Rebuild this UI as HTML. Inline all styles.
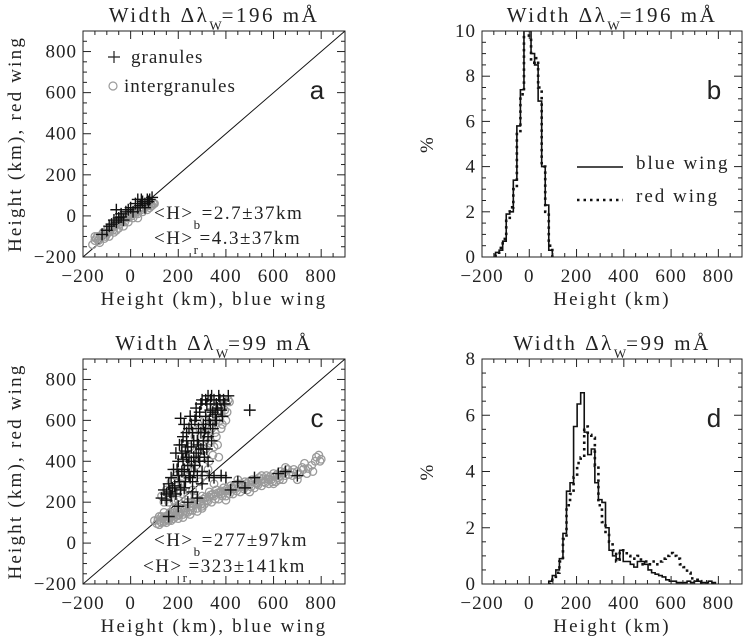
<!DOCTYPE html>
<html><head><meta charset="utf-8"><style>
html,body{margin:0;padding:0;background:#fff}
svg{display:block}
text{font-family:"Liberation Serif","DejaVu Serif",serif;fill:#222}
</style></head><body>
<svg id="fig" width="744" height="637" viewBox="0 0 744 637" xmlns="http://www.w3.org/2000/svg"></svg>
<script>
// ---- data ----
const histBins196 = [-135,-120,-105,-90,-75,-60,-45,-30,-15,0,15,30,45,60,75,90];
const blue196 = [0.2,0.3,0.7,1.9,2.0,3.4,5.8,7.4,10,10.2,9.0,8.5,6.9,4.0,2.3,0.3];
const red196  = [0.1,0.4,0.8,1.6,2.2,3.0,5.5,7.2,9.8,9.8,8.6,8.8,7.5,4.0,2.0,0.5];
const binWidth = 15;
const histBins99 = [90,105,120,135,150,165,180,195,210,225,240,255,270,285,300,315,330,345,360,375,390,405,420,435,450,465,480,495,510,525,540,555,570,585,600,615,630,645,660,675,690,705,720,735,750,765,780];
const blue99 = [0.1,0.3,0.5,0.9,1.8,3.3,3.6,5.6,6.4,6.8,5.4,4.6,4.8,3.6,3.0,2.9,2.0,1.2,1.0,0.9,1.2,0.8,0.8,0.7,0.6,0.8,0.8,0.7,0.5,0.4,0.35,0.3,0.25,0.15,0.1,0.1,0.05,0.05,0.05,0.1,0.05,0.1,0.1,0.05,0.05,0.1,0.05];
const red99 = [0,0.2,0.4,0.8,1.6,2.8,3.2,3.8,4.3,4.5,5.6,5.3,5.2,4.2,2.8,2.2,1.8,1.5,1.2,0.8,1.1,1.2,1.0,0.9,0.9,1.0,0.7,0.8,0.7,0.8,0.7,0.8,0.9,1.0,1.1,1.0,0.9,0.7,0.6,0.4,0.2,0.15,0.1,0.05,0.02,0,0];
const aGray = [[-150,-120],[-140,-100],[-130,-130],[-120,-90],[-110,-110],[-100,-70],[-90,-100],[-80,-60],[-70,-80],[-60,-40],[-50,-60],[-40,-20],[-30,-50],[-20,0],[-10,-30],[0,20],[10,-10],[20,30],[30,10],[40,40],[50,20],[60,50],[70,30],[80,60],[90,50],[100,60],[-130,-110],[-100,-90],[-70,-50],[-40,-30],[-10,-10],[20,10],[50,40],[80,40],[-160,-140],[-150,-100],[-60,-70],[30,-10],
[-145,-110],[-125,-100],[-115,-80],[-95,-80],[-85,-70],[-75,-70],[-65,-50],[-55,-30],[-45,-40],[-35,-10],[-25,-30],[-15,-10],[-5,10],[5,0],[15,20],[25,20],[35,30],[45,30],[55,40],[65,50],[75,50],[85,50],[95,60],[-105,-100],[-135,-120]];
const aBlack = [[-120,-90],[-80,-40],[-60,30],[-50,-10],[-40,10],[-20,20],[0,40],[20,60],[30,80],[40,50],[50,70],[60,60],[70,80],[80,80],[90,90],[-30,-20],[10,20],[-100,-70],[60,40],[-90,-50],[-70,-20],[-40,-5],[-10,30],[30,40],[45,80],[75,70],[-60,-30]];
const cGray = [[100,110],[110,95],[120,130],[130,100],[140,150],[150,120],[160,140],[170,110],[180,170],[190,130],[200,150],[210,190],[220,140],[230,170],[240,200],[250,160],[260,180],[270,220],[280,170],[290,200],[300,230],[310,190],[320,210],[330,250],[340,200],[350,230],[360,260],[370,215],[380,240],[390,270],[400,230],[410,255],[420,280],[430,240],[440,265],[450,290],[460,250],[470,275],[480,300],[490,260],[500,285],[510,310],[520,270],[530,295],[540,320],[550,280],[560,300],[570,330],[580,290],[590,310],[600,340],[610,300],[620,320],[630,350],[640,310],[650,330],[660,360],[680,330],[700,350],[720,370],[740,340],[760,380],[780,420],[790,430],[800,410],[700,310],[600,290],[500,250],[400,210],[300,170],[250,140],[200,120],[150,100],[350,290],[450,310],[550,330],[650,370],[730,390],[130,130],[180,145],[230,150],[280,190],[330,225],[380,255],[430,265],[480,280],[530,290],[580,310],[630,330],[680,345],
[115,115],[125,105],[135,120],[145,130],[155,115],[165,150],[175,130],[185,150],[195,160],[205,140],[215,170],[225,160],[235,180],[245,175],[255,195],[265,190],[275,200],[285,210],[295,190],[305,215],[315,225],[325,205],[335,235],[345,240],[355,215],[365,245],[375,250],[385,230],[395,255],[405,265],[415,240],[425,270],[435,280],[445,255],[455,275],[465,290],[475,265],[485,290],[495,300],[505,275],[515,300],[525,310],[535,285],[545,305],[555,315],[565,295],[575,315],[585,325],[595,300],[605,325],[615,335],[625,310],[645,345],[665,335],[685,360],[705,335],[725,360],[745,365],[765,350],[775,400],[795,400],[120,90],[140,105],[160,110],[180,120],[200,135],[220,125],[240,150],[260,160],[280,155],[300,180],
[130,230],[150,260],[160,200],[170,300],[180,250],[190,330],[200,280],[210,380],[220,320],[230,420],[240,360],[250,470],[260,400],[270,520],[280,440],[290,560],[300,480],[310,600],[320,520],[330,640],[340,560],[350,660],[360,600],[370,680],[380,640],[390,700],[400,690],[410,700],[360,520],[380,560],[400,600],[350,470],[370,420],[330,400],[310,330],[290,300],[260,260],[240,230],[220,240],[200,210],[180,210],
[140,200],[160,230],[175,240],[195,260],[215,290],[235,330],[255,350],[275,380],[295,420],[315,460],[335,500],[355,540],[375,600],[395,650],[415,690],[405,640],[385,580],[345,430],[365,480],[325,360]];
const cBlack = [[130,220],[140,260],[150,240],[160,290],[170,320],[175,270],[180,360],[190,440],[200,400],[205,480],[210,610],[215,350],[220,520],[225,580],[230,450],[235,500],[240,380],[245,560],[250,620],[255,470],[260,540],[265,420],[270,600],[275,660],[280,500],[285,560],[290,640],[295,460],[300,700],[305,580],[310,540],[315,620],[320,680],[325,720],[330,600],[335,650],[340,720],[345,560],[350,700],[355,630],[360,680],[370,720],[380,650],[390,700],[410,720],[290,400],[310,420],[270,380],[250,320],[230,300],[210,260],[190,240],[320,460],[340,500],[360,600],[280,330],[300,350],[200,330],[220,410],[240,470],[260,300],[170,230],[500,650],
[150,210],[165,250],[185,280],[195,360],[205,300],[215,440],[225,360],[235,420],[245,330],[255,400],[265,500],[275,440],[285,480],[295,540],[305,500],[315,560],[325,520],[335,580],[345,640],[355,600],[365,660],[375,700],[385,620],[395,680],[265,350],[245,420],[225,270],[285,420],[305,460],[325,400],[335,700],[315,700],[295,680],[275,620],[255,580],[235,540],[215,480],
[260,250],[300,290],[330,330],[350,320],[380,330],[400,320],[450,300],[520,320],[620,340],[650,350],[700,330],[200,180],[240,200],[280,220],[160,130],[420,260],[480,270]];
const xTicks = [-200,0,200,400,600,800];
const yTicksScatter = [-200,0,200,400,600,800];
const yTicksB = [0,2,4,6,8,10];
const yTicksD = [0,2,4,6,8];

// ---- drawing ----
const NS='http://www.w3.org/2000/svg';
const svg=document.getElementById('fig');
function mk(tag,attrs,parent){const e=document.createElementNS(NS,tag);for(const k in attrs)e.setAttribute(k,attrs[k]);(parent||svg).appendChild(e);return e;}
function txt(s,x,y,size,anchor,parent,extra){const t=mk('text',Object.assign({x:x,y:y,'font-size':size,'text-anchor':anchor||'middle'},extra||{}),parent);t.textContent=s;return t;}

function panel(name,box,xr,yr,yTicks,yMinor,title,ylabel,xlabel,letter){
  const g=mk('g',{});
  
  
  const sx=v=>box.x0+(v-xr[0])/(xr[1]-xr[0])*(box.x1-box.x0);
  const sy=v=>box.y1-(v-yr[0])/(yr[1]-yr[0])*(box.y1-box.y0);
  const clip=mk('clipPath',{id:'clip-'+name},g);
  mk('rect',{x:box.x0,y:box.y0,width:box.x1-box.x0,height:box.y1-box.y0},clip);
  const plot=mk('g',{'clip-path':'url(#clip-'+name+')'},g);
  
  
  const ax=mk('g',{stroke:'#222','stroke-width':1,fill:'none'},g);
  
  
  for(let v=xr[0];v<=xr[1]+1e-6;v+=50){
    const major=(v%200===0), L=major?8:4, x=sx(v);
    mk('line',{x1:x,y1:box.y1,x2:x,y2:box.y1-L},ax);
    mk('line',{x1:x,y1:box.y0,x2:x,y2:box.y0+L},ax);
  }
  for(let v=yr[0];v<=yr[1]+1e-6;v+=yMinor){
    const major=yTicks.some(t=>Math.abs(t-v)<1e-6), L=major?8:4, y=sy(v);
    mk('line',{x1:box.x0,y1:y,x2:box.x0+L,y2:y},ax);
    mk('line',{x1:box.x1,y1:y,x2:box.x1-L,y2:y},ax);
  }
  mk('rect',{x:box.x0,y:box.y0,width:box.x1-box.x0,height:box.y1-box.y0},ax);
  const tl=mk('g',{},g);
  
  
  xTicks.forEach(v=>txt(v<0?'\u2212'+(-v):String(v),sx(v),box.y1+25,19,'middle',tl,{'letter-spacing':1}));
  yTicks.forEach(v=>txt(v<0?'\u2212'+(-v):String(v),box.x0-6,sy(v)+6,19,'end',tl,{'letter-spacing':1}));
  const t=mk('text',{x:(box.x0+box.x1)/2,y:box.y0-9,'font-size':21,'text-anchor':'middle','letter-spacing':2.5},g);
  
  
  const s1=mk('tspan',{},t);s1.textContent='Width \u0394\u03bb';
  const s2=mk('tspan',{dy:8,'font-size':13,'letter-spacing':0},t);s2.textContent='W';
  const s3=mk('tspan',{dy:-8},t);s3.textContent='='+title+' m\u00c5';
  const yl=txt(ylabel,0,0,19,'middle',g,{'letter-spacing':2.2,transform:`translate(${ylabel==='%'?box.x0-49:21},${(box.y0+box.y1)/2}) rotate(-90)`});
  
  
  const xl=txt(xlabel,(box.x0+box.x1)/2,box.y1+48,19,'middle',g,{'letter-spacing':2.2});
  
  
  const le=txt(letter,box.x1-28,box.y0+68,26,'middle',g,{style:'font-family:"Liberation Sans",sans-serif'});
  
  
  return {g,plot,sx,sy};
}

function scatter(p,gray,black){
  mk('line',{x1:p.sx(-200),y1:p.sy(-200),x2:p.sx(900),y2:p.sy(900),stroke:'#111','stroke-width':1},p.plot);
  const gg=mk('g',{fill:'none',stroke:'#9a9a9a','stroke-width':1.3},p.plot);
  
  
  gray.forEach(d=>{
    const c=mk('circle',{cx:p.sx(d[0]),cy:p.sy(d[1]),r:3.8},gg);
    
    
  });
  const gb=mk('g',{stroke:'#111','stroke-width':1.4},p.plot);
  
  
  black.forEach(d=>{
    const x=p.sx(d[0]),y=p.sy(d[1]);
    const pl=mk('path',{d:`M${x-6},${y}H${x+6}M${x},${y-6}V${y+6}`},gb);
    
    
  });
}
function stepPath(p,bins,vals,yMax){
  let d='';
  bins.forEach((b,i)=>{
    const x0=p.sx(b-binWidth/2),x1=p.sx(b+binWidth/2),y=p.sy(Math.min(vals[i],yMax));
    d+=(i===0?`M${x0},${p.sy(0)}V${y}`:`V${y}`)+`H${x1}`;
  });
  d+=`V${p.sy(0)}`;
  return d;
}
function hist(p,bins,blue,red,yMax){
  const b=mk('path',{d:stepPath(p,bins,blue,yMax),fill:'none',stroke:'#111','stroke-width':1.6},p.plot);
  
  
  const r=mk('path',{d:stepPath(p,bins,red,yMax),fill:'none',stroke:'#111','stroke-width':2.6,'stroke-dasharray':'2.5 4'},p.plot);
  
  
}

const pa=panel('panel-a',{x0:83,x1:345,y0:31,y1:257},[-200,900],[-200,900],yTicksScatter,50,'196','Height (km), red wing','Height (km), blue wing','a');
scatter(pa,aGray,aBlack);
const pb=panel('panel-b',{x0:482,x1:742,y0:31,y1:257},[-200,900],[0,10],yTicksB,0.5,'196','%','Height (km)','b');
hist(pb,histBins196,blue196,red196,10);
const pc=panel('panel-c',{x0:83,x1:345,y0:359,y1:584},[-200,900],[-200,900],yTicksScatter,50,'99','Height (km), red wing','Height (km), blue wing','c');
scatter(pc,cGray,cBlack);
const pd=panel('panel-d',{x0:482,x1:742,y0:359,y1:584},[-200,900],[0,8],yTicksD,0.5,'99','%','Height (km)','d');
hist(pd,histBins99,blue99,red99,8);

const lg=mk('g',{},pa.g);


mk('path',{d:'M108,57H120M114,51V63',stroke:'#222','stroke-width':1.2},lg);
txt('granules',131,63,19,'start',lg,{'letter-spacing':1});
mk('circle',{cx:113,cy:86,r:4,fill:'none',stroke:'#9a9a9a','stroke-width':1.2},lg);
txt('intergranules',124,92,19,'start',lg,{'letter-spacing':1});
function ann(g,x,y,sub,val){
  const t=mk('text',{x:x,y:y,'font-size':19,'text-anchor':'start','letter-spacing':1.5},g);
  
  
  const a=mk('tspan',{},t);a.textContent='<H>';
  const b=mk('tspan',{dy:10,'font-size':13},t);b.textContent=sub;
  const c=mk('tspan',{dy:-10},t);c.textContent=val;
}
ann(pa.g,154,219,'b','=2.7\u00b137km');
ann(pa.g,154,244,'r','=4.3\u00b137km');
ann(pc.g,154,546,'b','=277\u00b197km');
ann(pc.g,143,572,'r','=323\u00b1141km');
const lb=mk('g',{},pb.g);


mk('line',{x1:577,y1:167,x2:623,y2:167,stroke:'#111','stroke-width':1.6},lb);
txt('blue wing',636,169,19,'start',lb,{'letter-spacing':2});
mk('line',{x1:577,y1:200,x2:623,y2:200,stroke:'#111','stroke-width':2.6,'stroke-dasharray':'2.5 4'},lb);
txt('red wing',636,202,19,'start',lb,{'letter-spacing':2});
</script>
</body></html>
